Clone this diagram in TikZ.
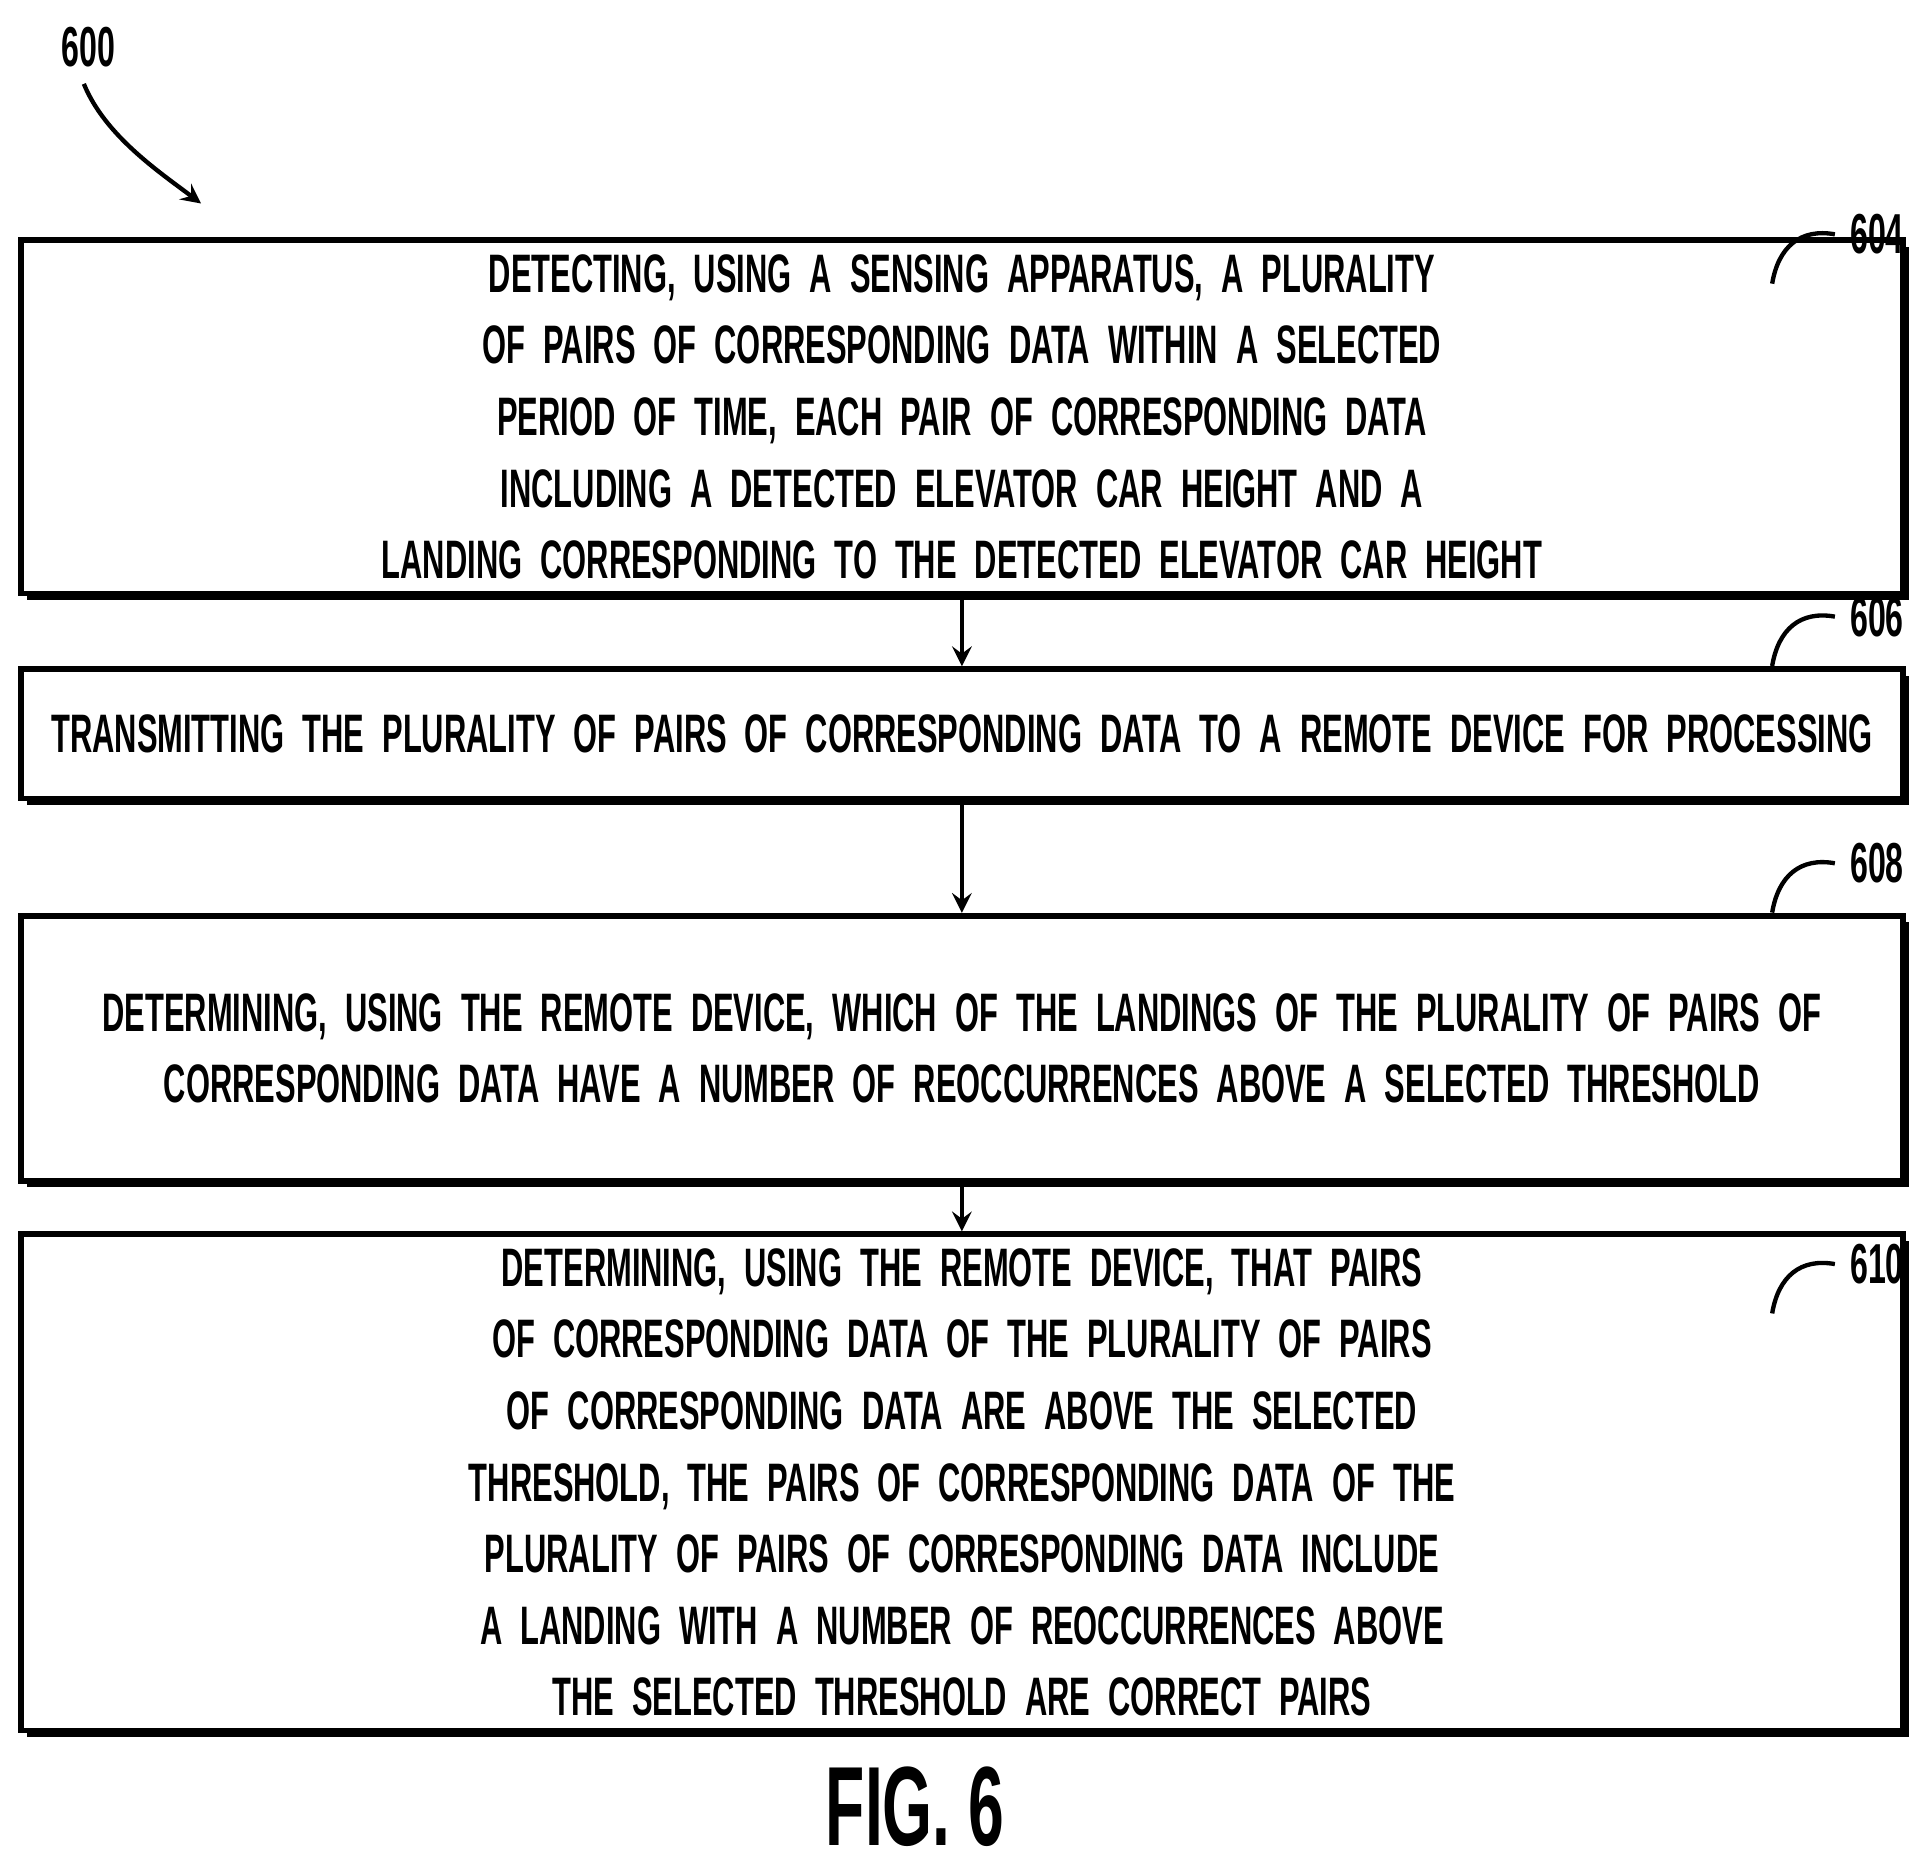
\documentclass[tikz,border=0pt]{standalone}
\usepackage{fontspec}
\newfontfamily\patfont{Liberation Sans}[FakeStretch=0.57]
\usetikzlibrary{shadows}

\tikzset{
    stepbox/.style={draw, line width=1.3pt, fill=white, minimum width=15.26cm, text width=15.1cm, inner xsep=0pt, align=center,
        font=\patfont\bfseries\fontsize{12.5}{16.5}\selectfont,
        drop shadow={shadow xshift=1.5pt, shadow yshift=-1.5pt, fill=black, opacity=1}},
    reflabel/.style={font=\patfont\bfseries\fontsize{13}{15}\selectfont},
    flow/.style={->, >=stealth, line width=1pt}
}

\begin{document}
\begin{tikzpicture}
    \useasboundingbox (0,0) rectangle (15.65,-15.0);
    % steps
    \node[stepbox, minimum height=2.13cm] (detect) at (7.80,-3.38) {DETECTING, USING A SENSING APPARATUS, A PLURALITY OF PAIRS OF CORRESPONDING DATA WITHIN A SELECTED\\PERIOD OF TIME, EACH PAIR OF CORRESPONDING DATA INCLUDING A DETECTED ELEVATOR CAR HEIGHT AND A\\LANDING CORRESPONDING TO THE DETECTED ELEVATOR CAR HEIGHT};
    \node[stepbox, minimum height=1.05cm] (transmit) at (7.80,-5.95) {TRANSMITTING THE PLURALITY OF PAIRS OF CORRESPONDING DATA TO A REMOTE DEVICE FOR PROCESSING};
    \node[stepbox, minimum height=2.15cm] (which) at (7.80,-8.50) {DETERMINING, USING THE REMOTE DEVICE, WHICH OF THE LANDINGS OF THE PLURALITY OF PAIRS OF\\CORRESPONDING DATA HAVE A NUMBER OF REOCCURRENCES ABOVE A SELECTED THRESHOLD};
    \node[stepbox, minimum height=2.85cm] (correct) at (7.80,-12.02) {DETERMINING, USING THE REMOTE DEVICE, THAT PAIRS OF CORRESPONDING DATA OF THE PLURALITY OF PAIRS\\OF CORRESPONDING DATA ARE ABOVE THE SELECTED THRESHOLD, THE PAIRS OF CORRESPONDING DATA OF THE\\PLURALITY OF PAIRS OF CORRESPONDING DATA INCLUDE A LANDING WITH A NUMBER OF REOCCURRENCES ABOVE\\THE SELECTED THRESHOLD ARE CORRECT PAIRS};

    \draw[flow] (detect) -- (transmit);
    \draw[flow] (transmit) -- (which);
    \draw[flow] (which) -- (correct);

    % reference numerals
    \node[reflabel] (n600) at (0.72,-0.38) {600};
    \coordinate (n600end) at (1.63,-1.65);
    \draw[flow] (0.68,-0.68) .. controls (0.85,-1.1) and (1.3,-1.4) .. (n600end);
    \foreach \nm/\yy in {604/-1.90, 606/-5.00, 608/-7.00, 610/-10.25} {
        \node[reflabel] (n\nm) at (15.22,\yy) {\nm};
        \draw[line width=1pt] (14.37,\yy-0.4) .. controls (14.42,\yy-0.1) and (14.6,\yy+0.05) .. (n\nm.west);
    }
    \node[font=\patfont\bfseries\fontsize{26}{28}\selectfont] (fig) at (7.42,-14.65) {FIG. 6};
\end{tikzpicture}
\end{document}
